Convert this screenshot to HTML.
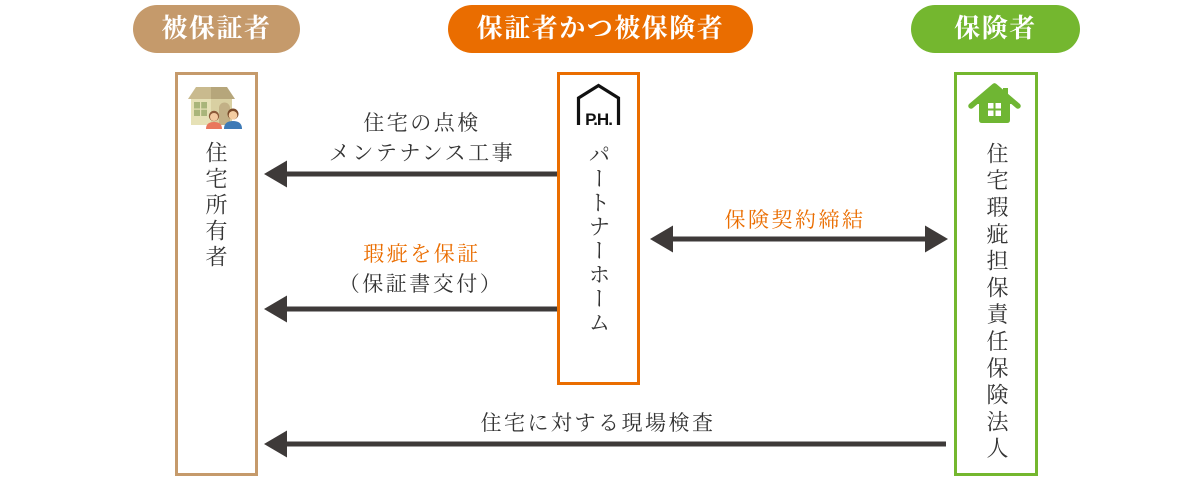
<!DOCTYPE html>
<html><head><meta charset="utf-8">
<style>
html,body{margin:0;padding:0;background:#fff;}
body{width:1200px;height:480px;position:relative;overflow:hidden;font-family:"Liberation Serif","Noto Serif CJK JP","Noto Serif CJK SC",serif;color:#333;}
.pill{position:absolute;top:5px;height:48px;border-radius:24px;color:#fff;font-weight:bold;font-size:26px;line-height:48px;text-align:center;letter-spacing:1.5px;}
.box{position:absolute;top:72px;box-sizing:border-box;border:3px solid;background:#fff;}
.vt{position:absolute;writing-mode:vertical-rl;font-size:22px;line-height:22px;color:#333;}
.t{position:absolute;text-align:center;font-size:21px;line-height:24px;letter-spacing:2.5px;white-space:nowrap;}
svg{position:absolute;left:0;top:0;}
</style></head><body>
<div class="pill" style="left:133px;width:167px;background:#c59a6b;">被保証者</div>
<div class="pill" style="left:448px;width:305px;background:#ea6d00;">保証者かつ被保険者</div>
<div class="pill" style="left:911px;width:169px;background:#74b72f;">保険者</div>

<div class="box" style="left:175px;width:83px;height:404px;border-color:#c59a6b;"></div>
<div class="box" style="left:557px;width:83px;height:313px;border-color:#ea6d00;"></div>
<div class="box" style="left:954px;width:84px;height:404px;border-color:#74b72f;"></div>

<div class="vt" style="left:204px;top:141px;letter-spacing:4px;">住宅所有者</div>
<div class="vt" style="left:587px;top:143px;letter-spacing:2px;">パートナーホーム</div>
<div class="vt" style="left:985px;top:142px;letter-spacing:4.8px;">住宅瑕疵担保責任保険法人</div>

<svg width="1200" height="480" viewBox="0 0 1200 480">
  <g fill="#3e3a39">
    <rect x="285" y="171.5" width="272" height="5"/>
    <polygon points="264,174 287,160.5 287,187.5"/>
    <rect x="285" y="306.5" width="272" height="5"/>
    <polygon points="264,309 287,295.5 287,322.5"/>
    <rect x="285" y="441.5" width="661" height="5"/>
    <polygon points="264,444 287,430.5 287,457.5"/>
    <rect x="671" y="236.5" width="255" height="5"/>
    <polygon points="650,239 673,225.5 673,252.5"/>
    <polygon points="948,239 925,225.5 925,252.5"/>
  </g>
  <!-- house family icon -->
  <polygon points="188,99 196,87 211,87 211,99" fill="#c9ba8e"/>
  <polygon points="211,87 227,87 235,99 211,99" fill="#b6a67b"/>
  <rect x="191" y="99" width="20" height="26" fill="#e6e1b6"/>
  <rect x="211" y="99" width="21" height="26" fill="#d9d0a2"/>
  <rect x="194" y="102" width="13" height="14" fill="#a9b57a"/>
  <rect x="200" y="102" width="1.2" height="14" fill="#e6e1b6"/>
  <rect x="194" y="108.5" width="13" height="1.2" fill="#e6e1b6"/>
  <path d="M219,125 L219,108 A5.5,5.5 0 0 1 230,108 L230,125 Z" fill="#c2b086"/>
  <path d="M206,129 Q206,122 214,122 Q222,122 222,129 Z" fill="#e9775d"/>
  <circle cx="214" cy="116" r="5.2" fill="#8c5a3a"/>
  <circle cx="214" cy="117" r="4" fill="#f3c9a0"/>
  <path d="M224,129 Q224,121 233,121 Q242,121 242,129 Z" fill="#3d7ab6"/>
  <circle cx="233" cy="114" r="5.5" fill="#7a4a2a"/>
  <circle cx="233" cy="115.3" r="4.3" fill="#f4cda2"/>
  <!-- PH icon -->
  <path d="M578.5,125 L578.5,98 L598.5,85.5 L618.5,98 L618.5,125" fill="none" stroke="#111" stroke-width="3.2" stroke-linejoin="miter"/>
  <text x="598.5" y="125" text-anchor="middle" font-family="Liberation Sans, sans-serif" font-weight="bold" font-size="17" fill="#111" letter-spacing="-1">P.H.</text>
  <!-- green house icon -->
  <rect x="1003" y="88" width="5" height="12" fill="#6fb633"/>
  <path d="M979,104 L979,120 Q979,123 982,123 L1007,123 Q1010,123 1010,120 L1010,104 Z" fill="#6fb633"/>
  <path d="M971,106 L994.5,86 L1018,106" fill="none" stroke="#6fb633" stroke-width="5.5" stroke-linecap="round" stroke-linejoin="round"/>
  <polygon points="975,104 994.5,88 1014,104" fill="#6fb633"/>
  <g fill="#fff">
    <rect x="988" y="103" width="5.5" height="5.5"/>
    <rect x="995.5" y="103" width="5.5" height="5.5"/>
    <rect x="988" y="110.5" width="5.5" height="5.5"/>
    <rect x="995.5" y="110.5" width="5.5" height="5.5"/>
  </g>
</svg>

<div class="t" style="left:322px;width:200px;top:111px;">住宅の点検</div>
<div class="t" style="left:322px;width:200px;top:141px;">メンテナンス工事</div>
<div class="t" style="left:322px;width:200px;top:242px;color:#ea6d00;">瑕疵を保証</div>
<div class="t" style="left:321px;width:200px;top:272px;">（保証書交付）</div>
<div class="t" style="left:695px;width:200px;top:208px;color:#ea6d00;">保険契約締結</div>
<div class="t" style="left:448px;width:300px;top:411px;">住宅に対する現場検査</div>
</body></html>
